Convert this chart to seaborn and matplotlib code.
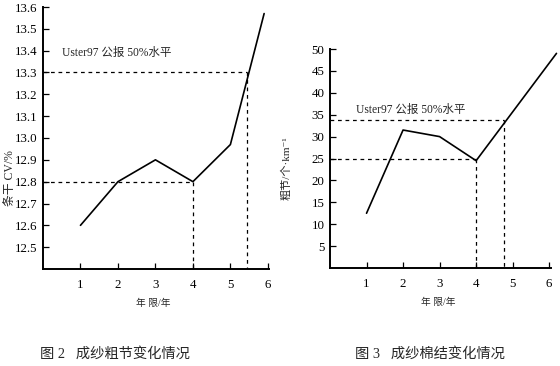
import matplotlib
matplotlib.use("Agg")
import matplotlib.pyplot as plt
import seaborn as sns
import pandas as pd

# ---- data: Fig 2 (yarn thick places / CV) ----
years_l = [1, 2, 3, 4, 5, 5.9]
cv_l = [12.6, 12.8, 12.9, 12.8, 12.97, 13.57]
yticks_l = [12.5, 12.6, 12.7, 12.8, 12.9, 13.0, 13.1, 13.2, 13.3, 13.4, 13.5, 13.6]
ref_levels_l = [13.3, 12.8]
ref_years_l = [5.45, 4.0]

# ---- data: Fig 3 (neps) ----
years_r = [1, 2, 3, 4, 6.2]
neps_r = [12.5, 31.5, 30.0, 24.5, 49.0]
yticks_r = [5, 10, 15, 20, 25, 30, 35, 40, 45, 50]
ref_levels_r = [33.8, 24.8]
ref_years_r = [4.75, 4.0]

xticks = [1, 2, 3, 4, 5, 6]
note = "Uster97 公报 50%水平"

sns.set_style("ticks")
plt.rcParams['font.family'] = ['Liberation Serif', 'Noto Sans CJK SC', 'DejaVu Sans']

fig = plt.figure(figsize=(5.6, 3.66), dpi=100)
axL = fig.add_axes([43/560, 1-269/366, (269-43)/560, (269-7)/366])
axR = fig.add_axes([330/560, 1-268/366, (551-330)/560, (268-49)/366])

dfL = pd.DataFrame({"year": years_l, "val": cv_l})
dfR = pd.DataFrame({"year": years_r, "val": neps_r})

sns.lineplot(data=dfL, x="year", y="val", ax=axL, color="black", lw=1.2, sort=False, clip_on=False)
sns.lineplot(data=dfR, x="year", y="val", ax=axR, color="black", lw=1.2, sort=False, clip_on=False)

def style(ax, ylim, yticks, xlim, ylabels):
    ax.set_xlim(*xlim)
    ax.set_ylim(*ylim)
    ax.set_xticks(xticks)
    ax.set_xticklabels([str(t) for t in xticks])
    ax.set_yticks(yticks)
    ax.set_yticklabels(ylabels)
    ax.tick_params(direction="in", length=4, width=0.9, labelsize=9.3, colors="black", pad=4)
    ax.tick_params(axis="x", pad=7)
    for s in ["top", "right"]:
        ax.spines[s].set_visible(False)
    for s in ["left", "bottom"]:
        ax.spines[s].set_linewidth(1.4)
        ax.spines[s].set_color("black")
    ax.set_xlabel("")
    ax.set_ylabel("")

style(axL, (12.4, 13.6), yticks_l, (0, 6.03), ["%.1f" % t for t in yticks_l])
style(axR, (0, 50), yticks_r, (0, 6.05), [str(t) for t in yticks_r])

for ax, levels, xs in [(axL, ref_levels_l, ref_years_l), (axR, ref_levels_r, ref_years_r)]:
    ymin = ax.get_ylim()[0]
    for lv, xv in zip(levels, xs):
        ax.plot([0, xv], [lv, lv], ls=(0, (3, 3)), color="black", lw=0.9)
        ax.plot([xv, xv], [lv, ymin], ls=(0, (3, 3)), color="black", lw=0.9)

axL.text(0.5, 13.36, note, fontsize=8.3, ha="left", va="bottom")
axR.text(0.72, 34.8, note, fontsize=8.3, ha="left", va="bottom")

fig.text(10/560, 1-178/366, "条干 CV/%", rotation=90, fontsize=8.5, ha="center", va="center")
fig.text(286/560, 1-168/366, "粗节/个·km⁻¹", rotation=90, fontsize=8, ha="center", va="center")

fig.text(153/560, 1-303/366, "年 限/年", fontsize=7, ha="center", va="center")
fig.text(438/560, 1-302/366, "年 限/年", fontsize=7, ha="center", va="center")

fig.text(40/560, 1-354/366, "图 2   成纱粗节变化情况", fontsize=10.3, ha="left", va="center")
fig.text(355/560, 1-354/366, "图 3   成纱棉结变化情况", fontsize=10.3, ha="left", va="center")

fig.savefig("out.png", dpi=100, facecolor="white")
